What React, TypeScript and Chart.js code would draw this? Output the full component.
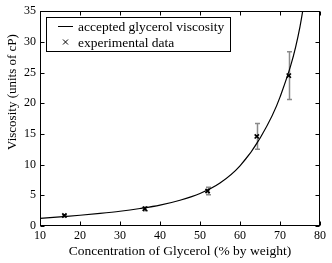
import React, { useEffect, useRef } from "react";
import { Chart, registerables } from "chart.js";

Chart.register(...registerables);

const curveX = [10, 15, 20, 25, 30, 35, 40, 45, 50, 55, 60, 65, 70, 75, 80];
const curveY = [1.25, 1.5, 1.75, 2.05, 2.4, 2.85, 3.4, 4.2, 5.3, 7.0, 9.8, 14.3, 21.0, 32.5, 55];
const expX = [16.1, 36.2, 51.9, 64.2, 72.2];
const expY = [1.7, 2.8, 5.7, 14.6, 24.5];
const expErr = [0.15, 0.3, 0.6, 2.1, 3.9];
const xTicks = [10, 20, 30, 40, 50, 60, 70, 80];
const yTicks = [0, 5, 10, 15, 20, 25, 30, 35];
const curveLabel = "accepted glycerol viscosity";
const expLabel = "experimental data";
const xTitle = "Concentration of Glycerol (% by weight)";
const yTitle = "Viscosity (units of cP)";

const FONT = "'Liberation Serif', 'Times New Roman', serif";

const framePlugin = {
  id: "frameTicks",
  afterDraw(chart: any) {
    const { ctx, chartArea: a, scales } = chart;
    const L = Math.round(a.left) + 0.5;
    const R = Math.round(a.right) - 0.5;
    const T = Math.round(a.top) + 0.5;
    const B = Math.round(a.bottom) - 0.5;
    ctx.save();
    ctx.strokeStyle = "#000";
    ctx.lineWidth = 1;
    ctx.strokeRect(L, T, R - L, B - T);
    const tl = 4;
    ctx.beginPath();
    for (const v of xTicks) {
      const px = Math.round(scales.x.getPixelForValue(v)) + 0.5;
      ctx.moveTo(px, B);
      ctx.lineTo(px, B - tl);
      ctx.moveTo(px, T);
      ctx.lineTo(px, T + tl);
    }
    for (const v of yTicks) {
      const py = Math.round(scales.y.getPixelForValue(v)) + 0.5;
      ctx.moveTo(L, py);
      ctx.lineTo(L + tl, py);
      ctx.moveTo(R, py);
      ctx.lineTo(R - tl, py);
    }
    ctx.stroke();

    // y axis title
    ctx.save();
    ctx.translate(12.5, 92);
    ctx.rotate(-Math.PI / 2);
    ctx.font = "13px " + FONT;
    ctx.fillStyle = "#000";
    ctx.textAlign = "center";
    ctx.textBaseline = "middle";
    ctx.fillText(yTitle, 0, 0);
    ctx.restore();

    // legend
    const lx = 46.5, ly = 17.5, lw = 184, lh = 34;
    ctx.fillStyle = "#fff";
    ctx.fillRect(lx, ly, lw, lh);
    ctx.strokeRect(lx, ly, lw, lh);
    ctx.font = "13.5px " + FONT;
    ctx.fillStyle = "#000";
    ctx.textBaseline = "middle";
    ctx.textAlign = "left";
    const r1 = 26.5, r2 = 42;
    ctx.beginPath();
    ctx.moveTo(58, r1);
    ctx.lineTo(73, r1);
    ctx.stroke();
    ctx.fillText(chart.data.datasets[0].label, 78, r1 + 1);
    ctx.beginPath();
    const cx = 65.5, cy = r2, s = 2.5;
    ctx.moveTo(cx - s, cy - s);
    ctx.lineTo(cx + s, cy + s);
    ctx.moveTo(cx + s, cy - s);
    ctx.lineTo(cx - s, cy + s);
    ctx.stroke();
    ctx.fillText(chart.data.datasets[1].label, 78, r2 + 1);
    ctx.restore();
  },
};

const errorBarPlugin = {
  id: "errorBars",
  beforeDatasetsDraw(chart: any) {
    const { ctx, scales } = chart;
    ctx.save();
    ctx.strokeStyle = "#8a8a8a";
    ctx.lineWidth = 1.5;
    ctx.beginPath();
    for (let i = 0; i < expX.length; i++) {
      const px = Math.round(scales.x.getPixelForValue(expX[i])) + 0.5;
      const top = scales.y.getPixelForValue(expY[i] + expErr[i]);
      const bot = scales.y.getPixelForValue(expY[i] - expErr[i]);
      ctx.moveTo(px, top);
      ctx.lineTo(px, bot);
      ctx.moveTo(px - 2.5, top);
      ctx.lineTo(px + 2.5, top);
      ctx.moveTo(px - 2.5, bot);
      ctx.lineTo(px + 2.5, bot);
    }
    ctx.stroke();
    ctx.restore();
  },
};

export default function App() {
  const ref = useRef<HTMLCanvasElement | null>(null);
  useEffect(() => {
    document.body.style.margin = "0";
    const canvas = ref.current;
    if (!canvas) return;
    const chart = new Chart(canvas, {
      type: "line",
      data: {
        datasets: [
          {
            label: curveLabel,
            data: curveX.map((x, i) => ({ x, y: curveY[i] })),
            borderColor: "#000",
            borderWidth: 1.2,
            pointRadius: 0,
            cubicInterpolationMode: "monotone",
            fill: false,
          },
          {
            label: expLabel,
            type: "scatter",
            data: expX.map((x, i) => ({ x, y: expY[i] })),
            showLine: false,
            pointStyle: "crossRot",
            pointRadius: 3,
            borderColor: "#000",
            backgroundColor: "#000",
            pointBorderWidth: 1.7,
          } as any,
        ],
      },
      options: {
        responsive: false,
        animation: false,
        devicePixelRatio: 1,
        layout: { padding: { left: 0, right: 12, top: 11, bottom: 0 } },
        plugins: { legend: { display: false }, tooltip: { enabled: false } },
        scales: {
          x: {
            type: "linear",
            min: 10,
            max: 80,
            grid: { display: false, drawTicks: false },
            border: { display: false },
            afterBuildTicks: (s: any) => {
              s.ticks = xTicks.map((v) => ({ value: v }));
            },
            afterFit: (s: any) => {
              s.height = 37;
            },
            ticks: { color: "#000", font: { family: FONT, size: 12 }, padding: 3, maxRotation: 0, autoSkip: false },
            title: {
              display: true,
              text: xTitle,
              color: "#000",
              font: { family: FONT, size: 13.5 },
              padding: { top: 0, bottom: 3 },
            },
          },
          y: {
            type: "linear",
            min: 0,
            max: 35,
            grid: { display: false, drawTicks: false },
            border: { display: false },
            afterBuildTicks: (s: any) => {
              s.ticks = yTicks.map((v) => ({ value: v }));
            },
            afterFit: (s: any) => {
              s.width = 40;
            },
            ticks: { color: "#000", font: { family: FONT, size: 12 }, padding: 4, autoSkip: false },
            title: { display: false, text: yTitle },
          },
        },
      } as any,
      plugins: [errorBarPlugin, framePlugin],
    });
    return () => chart.destroy();
  }, []);
  return (
    <div style={{ width: 332, height: 263 }}>
      <canvas ref={ref} width={332} height={263} style={{ display: "block" }} />
    </div>
  );
}
